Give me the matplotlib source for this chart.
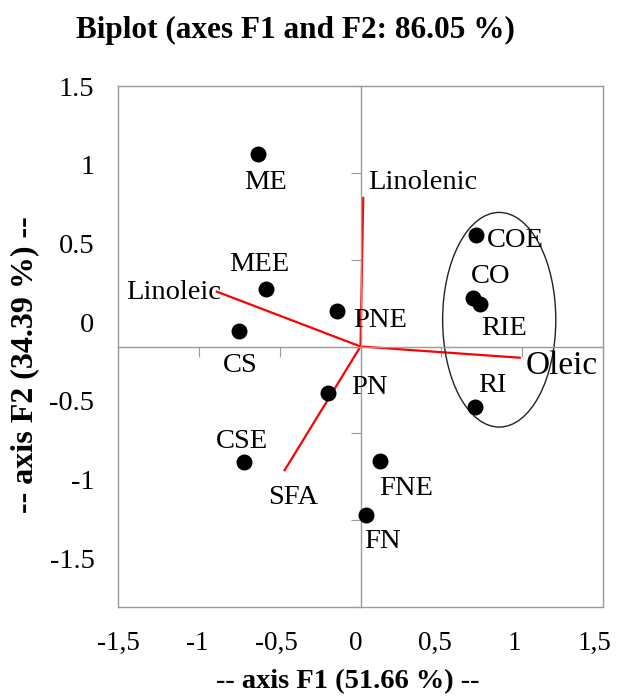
import matplotlib
matplotlib.use("Agg")
import matplotlib.pyplot as plt
from matplotlib.patches import Ellipse

# Observations (factor scores on F1 / F2)
obs_names = ["ME", "MEE", "CS", "PNE", "PN", "CSE", "FNE", "FN", "COE", "CO", "RIE", "RI"]
obs_f1 = [-0.634, -0.582, -0.753, -0.148, -0.200, -0.720, 0.123, 0.037, 0.714, 0.695, 0.741, 0.706]
obs_f2 = [1.111, 0.332, 0.092, 0.207, -0.266, -0.665, -0.661, -0.971, 0.644, 0.280, 0.245, -0.349]

# Variables (loadings on F1 / F2)
var_names = ["Linoleic", "Linolenic", "Oleic", "SFA"]
var_f1 = [-0.895, 0.017, 0.992, -0.473]
var_f2 = [0.318, 0.862, -0.065, -0.718]

# Group highlighted by the ellipse: centre, width, height
group_center = (0.858, 0.154)
group_size = (0.70, 1.236)

tick_values = [-1.5, -1.0, -0.5, 0.0, 0.5, 1.0, 1.5]
x_tick_labels = ["-1,5", "-1", "-0,5", "0", "0,5", "1", "1,5"]
y_tick_labels = ["-1.5", "-1", "-0.5", "0", "0.5", "1", "1.5"]

title = "Biplot (axes F1 and F2: 86.05 %)"
x_title = "-- axis F1 (51.66 %) --"
y_title = "-- axis F2 (34.39 %) --"

# label placement (offset points from the mark)
obs_label_pos = {
    "ME": (-10.3, -25.4), "MEE": (-27.1, 12.7), "CS": (-11.5, -30.0),
    "PNE": (12.2, -12.0), "PN": (16.6, -0.7), "CSE": (-20.4, 10.4),
    "FNE": (-0.7, -24.5), "FN": (-1.4, -24.0), "COE": (7.9, -9.1),
    "CO": (-1.2, 10.5), "RIE": (0.5, -22.1), "RI": (2.7, 10.8),
}
var_label_pos = {
    "Linoleic": ((4.1, -5.5), "right"), "Linolenic": ((3.6, 5.5), "left"),
    "Oleic": ((3.6, -11.5), "left"), "SFA": ((-11.7, -23.8), "left"),
}

serif = ["Liberation Serif", "DejaVu Serif"]
plt.rcParams["font.family"] = serif
gray = "#9a9a9a"

W, H = 619, 696
fig = plt.figure(figsize=(W / 100, H / 100), dpi=100)
rect = [118 / W, 1 - 607 / H, (603 - 118) / W, (607 - 86) / H]

# Outer frame carrying the tick labels
frame = fig.add_axes(rect, zorder=0)
frame.set_xlim(-1.494, 1.556)
frame.set_ylim(-1.811, 1.493)
frame.set_xticks(tick_values)
frame.set_xticklabels(x_tick_labels, fontsize=19.5)
frame.set_yticks(tick_values)
frame.set_yticklabels(y_tick_labels, fontsize=20.5)
frame.tick_params(length=0, pad=17)
for sp in frame.spines.values():
    sp.set_color(gray)
    sp.set_linewidth(1.0)

# Data axes with crosshair spines through the origin
ax = fig.add_axes(rect, zorder=1)
ax.patch.set_alpha(0)
ax.set_xlim(-1.5, 1.5)
ax.set_ylim(-1.5, 1.5)
ax.spines["left"].set_position(("data", 0))
ax.spines["bottom"].set_position(("data", 0))
ax.spines["top"].set_visible(False)
ax.spines["right"].set_visible(False)
for s in ("left", "bottom"):
    ax.spines[s].set_color(gray)
    ax.spines[s].set_linewidth(1.0)
ax.set_xticks(tick_values)
ax.set_yticks(tick_values)
ax.tick_params(direction="out", length=7, width=0.8, color=gray,
               labelleft=False, labelbottom=False)

# Variable vectors
for name, vx, vy in zip(var_names, var_f1, var_f2):
    ax.plot([0, vx], [0, vy], color="red", lw=1.6, zorder=2, solid_capstyle="butt")
    off, ha = var_label_pos[name]
    fs = 24 if name == "Oleic" else 20.5
    ax.annotate(name, (vx, vy), xytext=off, textcoords="offset points",
                ha=ha, va="baseline", fontsize=fs, zorder=4)

# Observations
ax.scatter(obs_f1, obs_f2, s=132, color="black", zorder=3, linewidths=0)
for name, ox, oy in zip(obs_names, obs_f1, obs_f2):
    ax.annotate(name, (ox, oy), xytext=obs_label_pos[name], textcoords="offset points",
                ha="left", va="baseline", fontsize=20.5, zorder=4)

ax.add_patch(Ellipse(group_center, group_size[0], group_size[1],
                     fill=False, edgecolor="#222222", lw=1.0, zorder=2))

fig.text(295 / W, 1 - 38 / H, title, ha="center", va="baseline",
         fontsize=22.5, fontweight="bold")
fig.text(347.5 / W, 1 - 688 / H, x_title, ha="center", va="baseline",
         fontsize=20.5, fontweight="bold")
fig.text(25 / W, 1 - 365 / H, y_title, ha="center", va="center",
         rotation=90, fontsize=23, fontweight="bold")

fig.savefig("out.png", dpi=100)
